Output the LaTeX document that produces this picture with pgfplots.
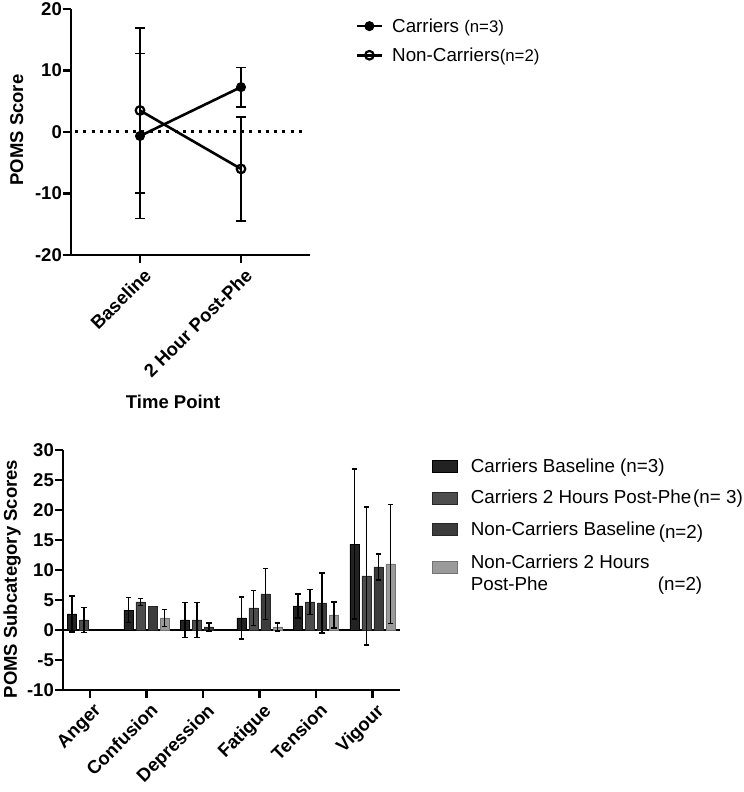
\documentclass[border=0pt]{standalone}
\usepackage{fontspec}
\setmainfont{Liberation Sans}
\usepackage{pgfplots}
\usepackage{pgfplotstable}
\pgfplotsset{compat=1.18}

\definecolor{cbase}{HTML}{222222}
\definecolor{cpost}{HTML}{4D4D4D}
\definecolor{nbase}{HTML}{3C3C3C}
\definecolor{npost}{HTML}{9A9A9A}

\newcommand{\lab}{\fontsize{18.5bp}{21bp}\selectfont\bfseries}
\newcommand{\leg}{\fontsize{18.8bp}{22bp}\selectfont}
\newcommand{\nsm}{\fontsize{16.8bp}{19bp}\selectfont}

% total POMS score: mean and SD per group
\pgfplotstableread{
x y e
0 -0.65 13.4
1 7.3 3.2
}\carriers
\pgfplotstableread{
x y e
0 3.5 13.4
1 -6.0 8.45
}\noncarriers

% subcategory scores (0 Anger, 1 Confusion, 2 Depression, 3 Fatigue, 4 Tension, 5 Vigour)
\pgfplotstableread{
x y e
0 2.67 3.0
1 3.33 2.08
2 1.67 2.89
3 2.0 3.5
4 4.0 2.0
5 14.33 12.5
}\subcbase
\pgfplotstableread{
x y e
0 1.67 2.08
1 4.67 0.58
2 1.67 2.89
3 3.67 2.89
4 4.67 2.08
5 9.0 11.5
}\subcpost
\pgfplotstableread{
x y e
2 0.5 0.71
3 6.0 4.24
4 4.5 4.95
5 10.5 2.12
}\subnbase
\pgfplotstableread{
x y e
1 2.0 1.41
3 0.5 0.71
4 2.5 2.12
5 11.0 9.9
}\subnpost

\pgfplotsset{
  prism/.style={
    scale only axis,
    axis x line*=bottom, axis y line*=left,
    axis line style={line width=2.6bp,-},
    every tick/.style={black,line width=2.6bp},
    tick align=outside, major tick length=8bp,
    tick label style={font=\lab},
    /pgf/number format/assume math mode=true,
    label style={font=\lab},
    yticklabel style={anchor=east,inner sep=0pt,xshift=-1bp},
    xticklabel style={rotate=45,anchor=north east,inner sep=0pt,yshift=-5bp,xshift=-1bp},
  },
  % bars are placed at category + offset directly, so bar and error bar share x
  sbar/.style={ybar, bar width=0.16, bar shift=0,
    legend image code/.code={\draw[##1,line width=0.6bp] (0bp,-6bp) rectangle (25bp,6bp);},
    error bars/y dir=both, error bars/y explicit,
    error bars/error bar style={black,line width=1.6bp},
    error bars/error mark options={rotate=90,mark size=2.8bp,line width=1.6bp,black}},
  lbar/.style={
    error bars/y dir=both, error bars/y explicit,
    error bars/error bar style={black,line width=1.6bp},
    error bars/error mark options={rotate=90,mark size=5bp,line width=1.6bp,black}},
}

\begin{document}
\begin{tikzpicture}
\useasboundingbox (0,0) rectangle (744bp,792bp);

% ---------- total score ----------
\begin{axis}[prism,
  at={(71bp,537bp)}, anchor=south west,
  width=239bp, height=246bp,
  xmin=-0.683, xmax=1.683, ymin=-20, ymax=20,
  xtick={0,1}, xticklabels={Baseline,2 Hour Post-Phe},
  ytick={-20,-10,0,10,20},
  xlabel={Time Point}, ylabel={POMS Score},
  x label style={at={(axis description cs:0.427,-0.622)},anchor=base},
  y label style={at={(axis description cs:-0.2,0.508)},anchor=base,rotate=0},
  legend style={at={(1.19,0.97)},anchor=north west,draw=none,fill=none,
    font=\leg,inner sep=0pt,row sep=10bp,column sep=7bp,
    nodes={inner sep=2bp}},
  legend cell align=left,
  legend image code/.code={\draw[mark repeat=2,mark phase=2,#1]
    plot coordinates {(0bp,0bp) (12.5bp,0bp) (25bp,0bp)};},
]
\addplot[black,line width=3bp,dash pattern=on 3bp off 5.3bp,forget plot]
  coordinates {(-0.644,0) (1.634,0)};
\addplot[black,line width=2.6bp,mark=*,mark size=4.5bp,
  mark options={solid,fill=black,line width=1bp},lbar]
  table[x=x,y=y,y error=e]{\carriers};
\addlegendentry{Carriers {\nsm(n=3)}}
\addplot[black,line width=2.6bp,mark=o,mark size=4.3bp,
  mark options={solid,fill=white,line width=2.2bp},lbar]
  table[x=x,y=y,y error=e]{\noncarriers};
\addlegendentry{Non-Carriers{\nsm(n=2)}}
\end{axis}

% ---------- subcategories ----------
\begin{axis}[prism,
  at={(63bp,102bp)}, anchor=south west,
  width=337bp, height=240bp,
  xmin=-0.478, xmax=5.487, ymin=-10, ymax=30,
  xtick={0,...,5},
  xticklabels={Anger,Confusion,Depression,Fatigue,Tension,Vigour},
  ytick={-10,-5,...,30},
  ylabel={POMS Subcategory Scores},
  y label style={at={(axis description cs:-0.1365,0.4625)},anchor=base,rotate=0},
  legend style={at={(1.095,0.973)},anchor=north west,draw=none,fill=none,
    font=\leg,inner sep=0pt,row sep=12.5bp,column sep=11bp,
    nodes={inner sep=2bp}},
  legend cell align=left,
]
\addplot[black,line width=2.6bp,forget plot] coordinates {(-0.478,0) (5.487,0)};
\addplot[sbar,fill=cbase,draw=black]
  table[x expr=\thisrow{x}-0.319,y=y,y error=e]{\subcbase};
\addlegendentry{Carriers Baseline (n=3)}
\addplot[sbar,fill=cpost,draw=black!85]
  table[x expr=\thisrow{x}-0.106,y=y,y error=e]{\subcpost};
\addlegendentry{Carriers 2 Hours Post-Phe\kern2bp(n=~3)}
\addplot[sbar,fill=nbase,draw=black!85]
  table[x expr=\thisrow{x}+0.106,y=y,y error=e]{\subnbase};
\addlegendentry{Non-Carriers Baseline\kern3bp\raisebox{-3bp}{(n=2)}}
\addplot[ybar,bar width=0.16,bar shift=0,fill=nbase,draw=black!85,forget plot]
  coordinates {(1.106,4.0)};
\addplot[sbar,fill=npost,draw=black!55]
  table[x expr=\thisrow{x}+0.319,y=y,y error=e]{\subnpost};
\addlegendentry{\begin{tabular}{@{}l@{}}Non-Carriers 2 Hours\\\makebox[187bp][l]{Post-Phe}(n=2)\end{tabular}}
\end{axis}
\end{tikzpicture}
\end{document}
